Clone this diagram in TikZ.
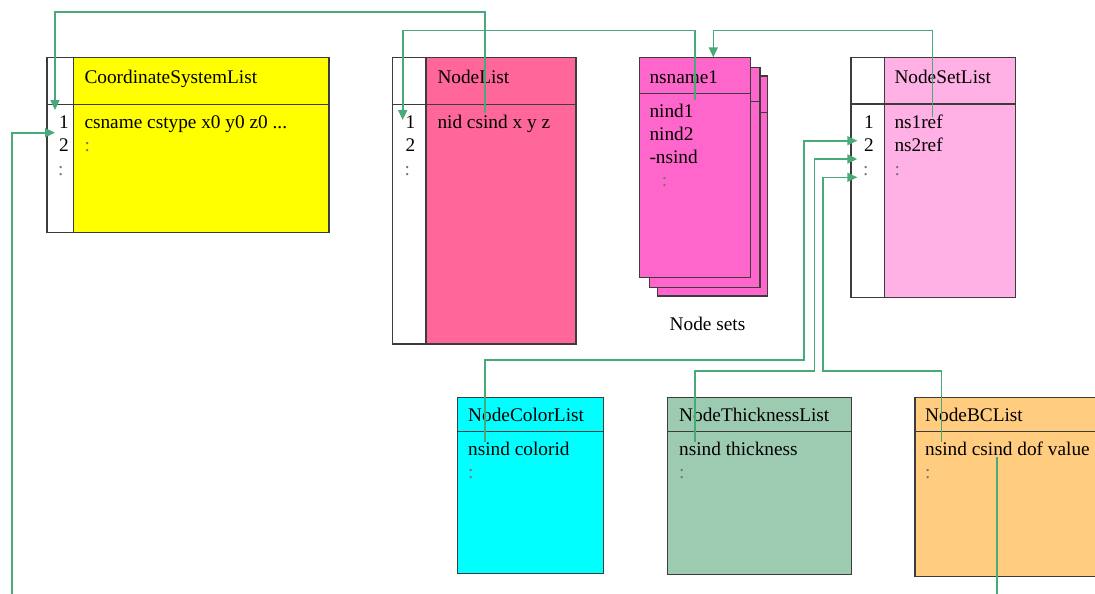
\documentclass[tikz,border=0pt]{standalone}
\usepackage{fontspec}
\setmainfont{Liberation Serif}
\usetikzlibrary{arrows.meta}
\definecolor{conn}{RGB}{72,170,120}
\definecolor{bord}{RGB}{60,60,60}
\definecolor{cyel}{RGB}{255,255,0}
\definecolor{cnl}{RGB}{255,102,153}
\definecolor{cns}{RGB}{255,102,204}
\definecolor{cnsl}{RGB}{255,176,228}
\definecolor{ccol}{RGB}{0,255,255}
\definecolor{cthk}{RGB}{157,203,178}
\definecolor{cbc}{RGB}{255,204,128}
\begin{document}
\begin{tikzpicture}[x=1pt,y=-1pt,
  box/.style={draw=bord,line width=1.5pt,rectangle,inner sep=0pt,outer sep=0pt,anchor=north west},
  sep/.style={draw=bord,line width=1.5pt},
  txt/.style={anchor=base west,inner sep=0pt,font=\fontsize{19.3}{23}\selectfont},
  dim/.style={txt,text=black!55},
  link/.style={draw=conn,line width=1.6pt},
  arr/.style={link,-{Triangle[length=10pt,width=9pt]}}]
\useasboundingbox (0,0) rectangle (1095,594);

% CoordinateSystemList
\node[box,fill=cyel,minimum width=282pt,minimum height=175pt] (cs) at (47,57.5) {};
\node[box,fill=white,minimum width=26.5pt,minimum height=175pt] (csidx) at (47,57.5) {};
\draw[sep] (47,104.3) -- (329,104.3);
\node[txt] (cst) at (84.3,83.3) {CoordinateSystemList};
\node[txt] (csr1) at (84.3,128.3) {csname cstype x0 y0 z0 ...};
\node[dim] (csr2) at (84.3,151.7) {:};
\node[txt] (csi1) at (59,128.3) {1};
\node[txt] (csi2) at (59,151.7) {2};
\node[dim] (csi3) at (58,175) {:};

% NodeList
\node[box,fill=cnl,minimum width=183.3pt,minimum height=286.7pt] (nl) at (392.7,57.3) {};
\node[box,fill=white,minimum width=33.3pt,minimum height=286.7pt] (nlidx) at (392.7,57.3) {};
\draw[sep] (392.7,104.3) -- (576,104.3);
\node[txt] (nlt) at (437.3,83.3) {NodeList};
\node[txt] (nlr1) at (437.3,128.3) {nid csind x y z};
\node[txt] (nli1) at (405.5,128.3) {1};
\node[txt] (nli2) at (405.5,151.7) {2};
\node[dim] (nli3) at (404.5,175) {:};

% Node sets stack
\node[box,fill=cns,minimum width=110pt,minimum height=220pt] (ns3) at (657.7,76) {};
\draw[sep] (657.7,112.3) -- (767.7,112.3);
\node[box,fill=cns,minimum width=110.7pt,minimum height=219.6pt] (ns2) at (649.3,67.7) {};
\draw[sep] (649.3,101.7) -- (760,101.7);
\node[box,fill=cns,minimum width=111.4pt,minimum height=220.4pt] (ns1) at (639.3,57.3) {};
\draw[sep] (639.3,93.3) -- (750.7,93.3);
\node[txt] (nst) at (649.3,83.3) {nsname1};
\node[txt] (nsr1) at (649.3,117.3) {nind1};
\node[txt] (nsr2) at (649.3,140.3) {nind2};
\node[txt] (nsr3) at (649.3,163.3) {-nsind};
\node[dim] (nsr4) at (661.7,186.7) {:};
\node[txt,anchor=base] (nslabel) at (707.5,330) {Node sets};

% NodeSetList
\node[box,fill=cnsl,minimum width=164.7pt,minimum height=240pt] (nsl) at (851,57.7) {};
\node[box,fill=white,minimum width=33.3pt,minimum height=240pt] (nslidx) at (851,57.7) {};
\draw[sep] (851,104) -- (1015.7,104);
\node[txt] (nslt) at (894.3,83.3) {NodeSetList};
\node[txt] (nslr1) at (894.3,128.3) {ns1ref};
\node[txt] (nslr2) at (894.3,151.7) {ns2ref};
\node[dim] (nslr3) at (894.3,175) {:};
\node[txt] (nsli1) at (864,128.3) {1};
\node[txt] (nsli2) at (864,151.7) {2};
\node[dim] (nsli3) at (863,175) {:};

% NodeColorList
\node[box,fill=ccol,minimum width=146.2pt,minimum height=176pt] (col) at (457.5,397.3) {};
\draw[sep] (457.5,431.7) -- (603.7,431.7);
\node[txt] (colt) at (468,421.7) {NodeColorList};
\node[txt] (colr1) at (468,455) {nsind colorid};
\node[dim] (colr2) at (468,478) {:};

% NodeThicknessList
\node[box,fill=cthk,minimum width=183.8pt,minimum height=177pt] (thk) at (667.6,397.3) {};
\draw[sep] (667.6,431.7) -- (851.4,431.7);
\node[txt] (thkt) at (679,421.7) {NodeThicknessList};
\node[txt] (thkr1) at (679,455) {nsind thickness};
\node[dim] (thkr2) at (679,478) {:};

% NodeBCList
\node[box,fill=cbc,minimum width=200pt,minimum height=179.4pt] (bc) at (915,397.3) {};
\draw[sep] (915,431.7) -- (1115,431.7);
\node[txt] (bct) at (925,421.7) {NodeBCList};
\node[txt] (bcr1) at (925,455) {nsind csind dof value};
\node[dim] (bcr2) at (925,478) {:};

% connectors
\coordinate (s1) at (485,113.3);
\coordinate (e1) at (55,110);
\draw[arr] (s1) -- ++(0,-101) -| (e1);
\coordinate (s2) at (11.7,600);
\coordinate (e2) at (55,132.7);
\draw[arr] (s2) |- (e2);
\coordinate (s3) at (695,100);
\coordinate (e3) at (402.7,120);
\draw[arr] (s3) -- ++(0,-69.3) -| (e3);
\coordinate (s4) at (932.3,116.7);
\coordinate (e4) at (713.3,57.3);
\draw[arr] (s4) -- ++(0,-86) -| (e4);
\coordinate (s5) at (484.7,441.7);
\coordinate (e5) at (857.3,140.7);
\draw[arr] (s5) -- ++(0,-81.7) -- (804,360) |- (e5);
\coordinate (s6) at (694.8,441.7);
\coordinate (e6) at (857.3,159);
\draw[arr] (s6) -- ++(0,-71) -- (814.3,370.7) |- (e6);
\coordinate (s7) at (941.3,441.7);
\coordinate (e7) at (857.3,177.3);
\draw[arr] (s7) -- ++(0,-71) -- (822.7,370.7) |- (e7);
\coordinate (s8) at (996.8,457);
\coordinate (e8) at (996.8,600);
\draw[link] (s8) -- (e8);
\end{tikzpicture}
\end{document}
